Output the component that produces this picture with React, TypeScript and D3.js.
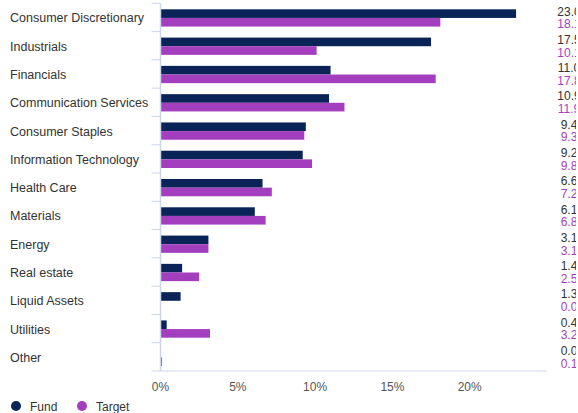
import React from "react";
import * as d3 from "d3";

const categories = [
  "Consumer Discretionary",
  "Industrials",
  "Financials",
  "Communication Services",
  "Consumer Staples",
  "Information Technology",
  "Health Care",
  "Materials",
  "Energy",
  "Real estate",
  "Liquid Assets",
  "Utilities",
  "Other",
];
const fundValues = [23.0, 17.5, 11.0, 10.9, 9.4, 9.2, 6.6, 6.1, 3.1, 1.4, 1.3, 0.4, 0.0];
const targetValues = [18.1, 10.1, 17.8, 11.9, 9.3, 9.8, 7.2, 6.8, 3.1, 2.5, 0.0, 3.2, 0.1];
const seriesNames = ["Fund", "Target"];
const xTicks = [0, 5, 10, 15, 20];

const W = 578;
const H = 413;
const FONT = "'Liberation Sans', Arial, Helvetica, sans-serif";
const FUND = "#0b2458";
const TARGET = "#a33fbf";
const AXIS = "#ccd6eb";

export default function App() {
  const left = 160.5;
  const x = d3.scaleLinear().domain([0, 25]).range([left, 547]);
  const y = d3.scaleBand<string>().domain(categories).range([3.3, 371]);
  const y1 = d3
    .scaleBand<string>()
    .domain(seriesNames)
    .range([6, y.bandwidth() - 5]);
  const colors = [FUND, TARGET];
  const series = [fundValues, targetValues];
  const baseY = 371;

  return (
    <svg
      width={W}
      height={H}
      style={{ position: "absolute", left: 0, top: 0, display: "block" }}
      fontFamily={FONT}
    >
      <defs>
        <clipPath id="labelClip">
          <rect x={0} y={0} width={576} height={H} />
        </clipPath>
      </defs>
      <rect width={W} height={H} fill="#fff" />
      {/* category labels */}
      {categories.map((c) => (
        <text
          key={c}
          x={10}
          y={(y(c) as number) + y.bandwidth() / 2 + 5}
          fontSize={12.5}
          fill="#333"
        >
          {c}
        </text>
      ))}
      {/* bars */}
      {series.map((vals, si) =>
        vals.map((v, i) => (
          <rect
            key={`${si}-${i}`}
            x={x(0)}
            y={(y(categories[i]) as number) + (y1(seriesNames[si]) as number)}
            width={x(v) - x(0)}
            height={y1.bandwidth()}
            fill={colors[si]}
          />
        ))
      )}
      {/* band ticks on the left axis */}
      {[...categories.map((c) => y(c) as number), baseY].map((t, i) => (
        <line key={i} x1={left - 9} x2={left} y1={t} y2={t} stroke={AXIS} strokeWidth={1} />
      ))}
      <line x1={left} x2={left} y1={3.3} y2={baseY} stroke={AXIS} strokeWidth={1.5} />
      <line x1={left} x2={547} y1={baseY} y2={baseY} stroke={AXIS} strokeWidth={1} />
      {/* value labels, cut at the right edge as in the original */}
      <g clipPath="url(#labelClip)">
        {series.map((vals, si) =>
          vals.map((v, i) => (
            <text
              key={`l${si}-${i}`}
              x={569}
              y={
                (y(categories[i]) as number) +
                (y1(seriesNames[si]) as number) +
                y1.bandwidth() / 2 +
                (si === 0 ? 2 : 6)
              }
              textAnchor="middle"
              fontSize={12}
              fill={si === 0 ? "#333" : TARGET}
            >
              {v.toFixed(1)}
            </text>
          ))
        )}
      </g>
      {/* x axis tick labels */}
      {xTicks.map((t) => (
        <text
          key={t}
          x={x(t)}
          y={391}
          textAnchor="middle"
          fontSize={12}
          fill="#555"
        >
          {`${t}%`}
        </text>
      ))}
      {/* legend */}
      {seriesNames.map((s, i) => {
        const lx = i === 0 ? 16 : 82;
        return (
          <g key={s}>
            <circle cx={lx} cy={406} r={5} fill={colors[i]} />
            <text x={lx + 14} y={410.5} fontSize={12} fill="#333">
              {s}
            </text>
          </g>
        );
      })}
    </svg>
  );
}
